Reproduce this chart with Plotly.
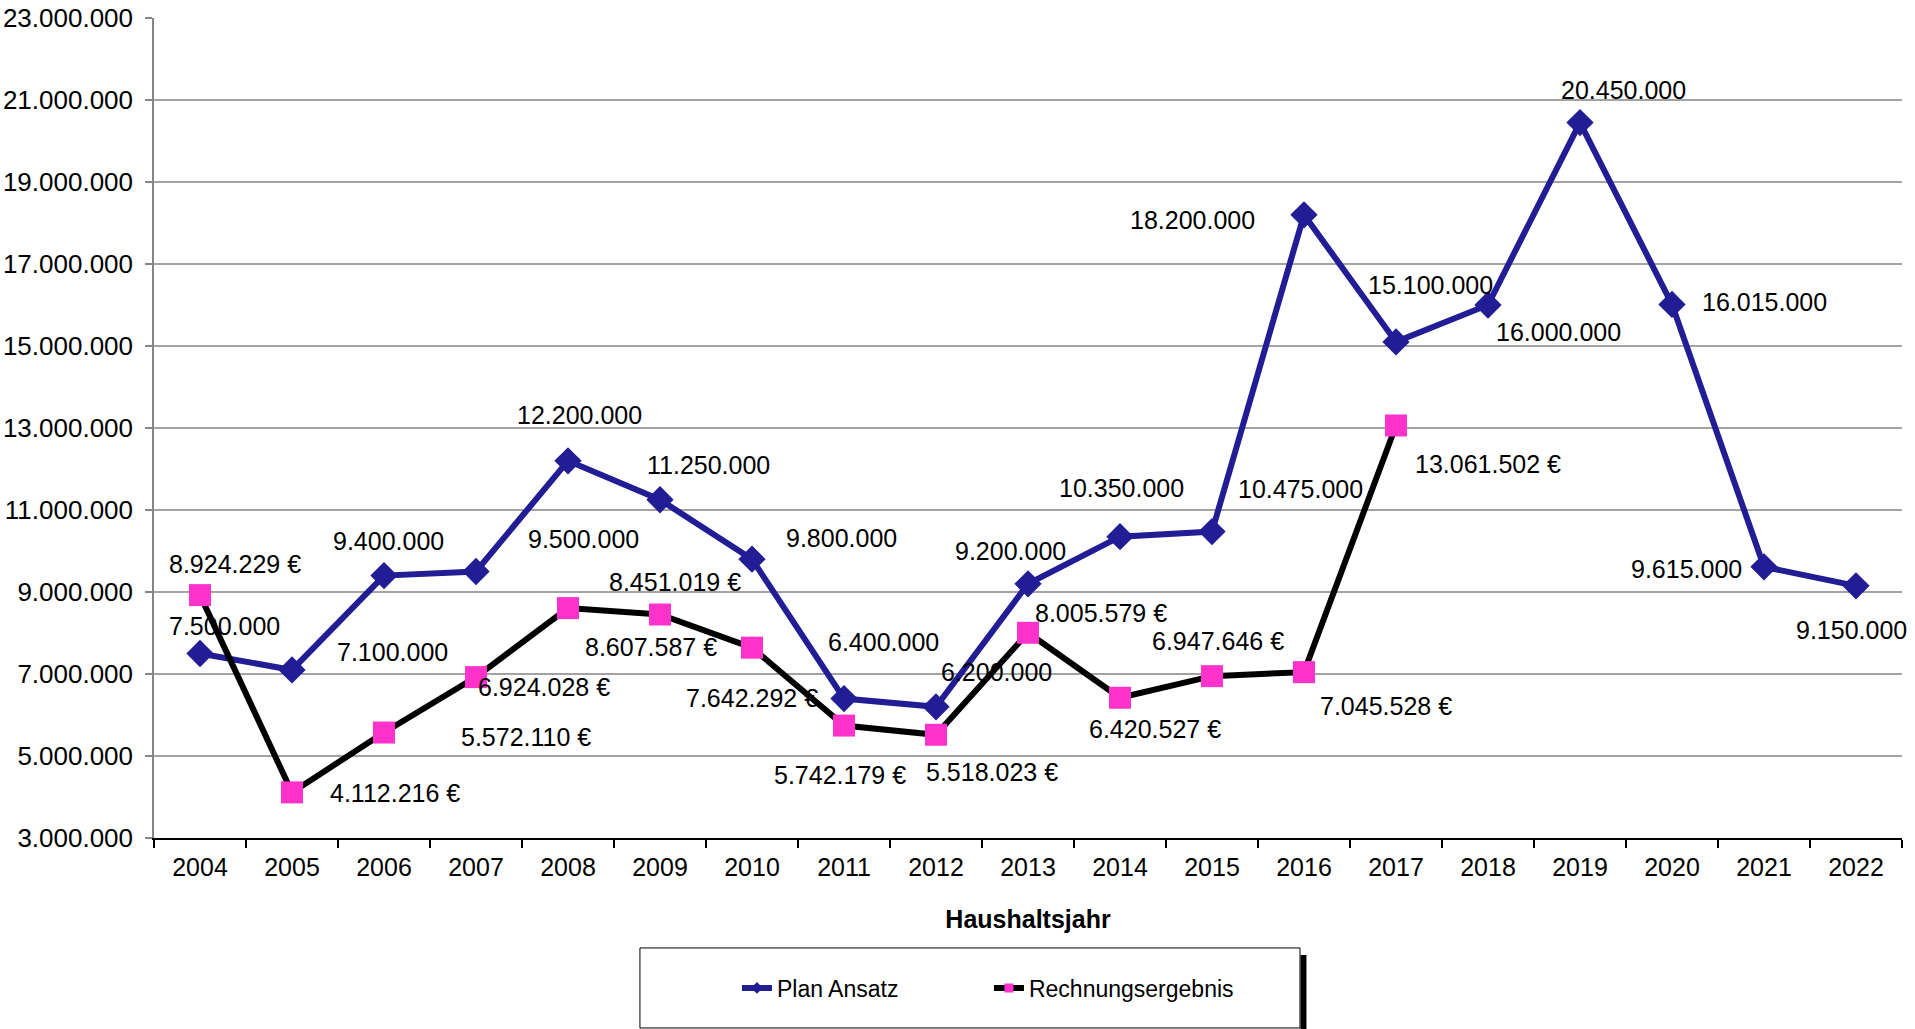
import plotly.graph_objects as go

years = [str(y) for y in range(2004, 2023)]
plan_ansatz = [7500000, 7100000, 9400000, 9500000, 12200000, 11250000, 9800000,
               6400000, 6200000, 9200000, 10350000, 10475000, 18200000, 15100000,
               16000000, 20450000, 16015000, 9615000, 9150000]
rechnungsergebnis = [8924229, 4112216, 5572110, 6924028, 8607587, 8451019, 7642292,
                     5742179, 5518023, 8005579, 6420527, 6947646, 7045528, 13061502,
                     None, None, None, None, None]
y_ticks = list(range(3000000, 23000001, 2000000))

# label offsets (pixels) mimicking the reference's label placement
plan_offsets = [(24, 28), (100, 18), (4, 35), (107, 33), (11, 46), (48, 35), (89, 21),
                (39, 57), (60, 35), (-18, 33), (1, 49), (88, 43), (-112, -5), (34, 57),
                (70, -27), (43, 33), (92, 2), (-78, -2), (-5, -44)]
rech_offsets = [(35, 31), (103, -1), (142, -4), (68, -10), (83, -39), (15, 33), (0, -50),
                (-4, -49), (56, -37), (73, 20), (35, -31), (6, 35), (82, -34), (92, -39)]

BLUE = "#221D94"
PINK = "#FF33CC"
FONT = "Liberation Sans, Arial, sans-serif"
FS = 25


def de(v):
    return f"{v:,}".replace(",", ".")


fig = go.Figure()
fig.add_trace(go.Scatter(x=years, y=plan_ansatz, mode="lines+markers", name="Plan Ansatz",
                         line=dict(color=BLUE, width=6),
                         marker=dict(symbol="diamond", size=21, color=BLUE),
                         showlegend=False))
fig.add_trace(go.Scatter(x=years, y=rechnungsergebnis, mode="lines+markers",
                         name="Rechnungsergebnis",
                         line=dict(color="black", width=6),
                         marker=dict(symbol="square", size=22, color=PINK),
                         showlegend=False))
# legend-only traces with smaller markers
fig.add_trace(go.Scatter(x=[years[0]], y=[None], mode="lines+markers", name="Plan Ansatz",
                         line=dict(color=BLUE, width=6),
                         marker=dict(symbol="diamond", size=9, color=BLUE)))
fig.add_trace(go.Scatter(x=[years[0]], y=[None], mode="lines+markers",
                         name="Rechnungsergebnis",
                         line=dict(color="black", width=6),
                         marker=dict(symbol="square", size=9, color=PINK)))

annotations = []
for i, (v, (dx, dy)) in enumerate(zip(plan_ansatz, plan_offsets)):
    annotations.append(dict(x=i, y=v, text=de(v), showarrow=False, xshift=dx, yshift=dy,
                            font=dict(family=FONT, size=FS, color="black")))
for i, (v, (dx, dy)) in enumerate(zip(rechnungsergebnis, rech_offsets)):
    if v is None:
        continue
    annotations.append(dict(x=i, y=v, text=de(v) + " €", showarrow=False, xshift=dx,
                            yshift=dy, font=dict(family=FONT, size=FS, color="black")))

shapes = []
for t in y_ticks[1:-1]:
    shapes.append(dict(type="line", xref="paper", x0=0, x1=1, yref="y", y0=t, y1=t,
                       line=dict(color="#858585", width=1.5), layer="below"))
# legend box and its shadow
shapes.append(dict(type="rect", xref="paper", yref="paper", x0=0.2780, x1=0.6556,
                   y0=-0.2317, y1=-0.1341, line=dict(color="black", width=1),
                   fillcolor="rgba(0,0,0,0)"))
shapes.append(dict(type="rect", xref="paper", yref="paper", x0=0.6559, x1=0.6593,
                   y0=-0.2340, y1=-0.1427, line=dict(width=0), fillcolor="black"))

fig.update_layout(
    width=1915, height=1029,
    margin=dict(l=154, r=13, t=18, b=191, autoexpand=False),
    paper_bgcolor="white", plot_bgcolor="white",
    separators=",.",
    font=dict(family=FONT, size=FS, color="black"),
    showlegend=True,
    legend=dict(orientation="h", x=0.3335, xanchor="left", y=-0.1829, yanchor="middle",
                font=dict(family=FONT, size=23, color="black"),
                entrywidth=207, entrywidthmode="pixels",
                bgcolor="rgba(0,0,0,0)", borderwidth=0),
    annotations=annotations,
    shapes=shapes,
)
fig.update_xaxes(type="category", categoryorder="array", categoryarray=years,
                 range=[-0.5, len(years) - 0.5], tickangle=0, automargin=False,
                 showgrid=False, showline=True, linecolor="black",
                 linewidth=1.5, ticks="outside", tickson="boundaries", ticklen=8,
                 tickcolor="black", tickwidth=1.5, ticklabelstandoff=6,
                 tickfont=dict(family=FONT, size=FS, color="black"),
                 title=dict(text="<b>Haushaltsjahr</b>", standoff=31,
                            font=dict(family=FONT, size=FS, color="black")))
fig.update_yaxes(range=[3000000, 23000000], tickvals=y_ticks, tickformat=",.0f",
                 automargin=False,
                 showgrid=False, zeroline=False, showline=True, linecolor="#858585",
                 linewidth=1.5, ticks="outside", ticklen=7, tickcolor="#858585",
                 tickwidth=1.5, ticklabelstandoff=7,
                 tickfont=dict(family=FONT, size=26, color="black"))

fig.write_html("out.html", config={"displayModeBar": False},
               post_script="document.body.style.margin='0px';"
                           "document.body.style.overflow='hidden';")
